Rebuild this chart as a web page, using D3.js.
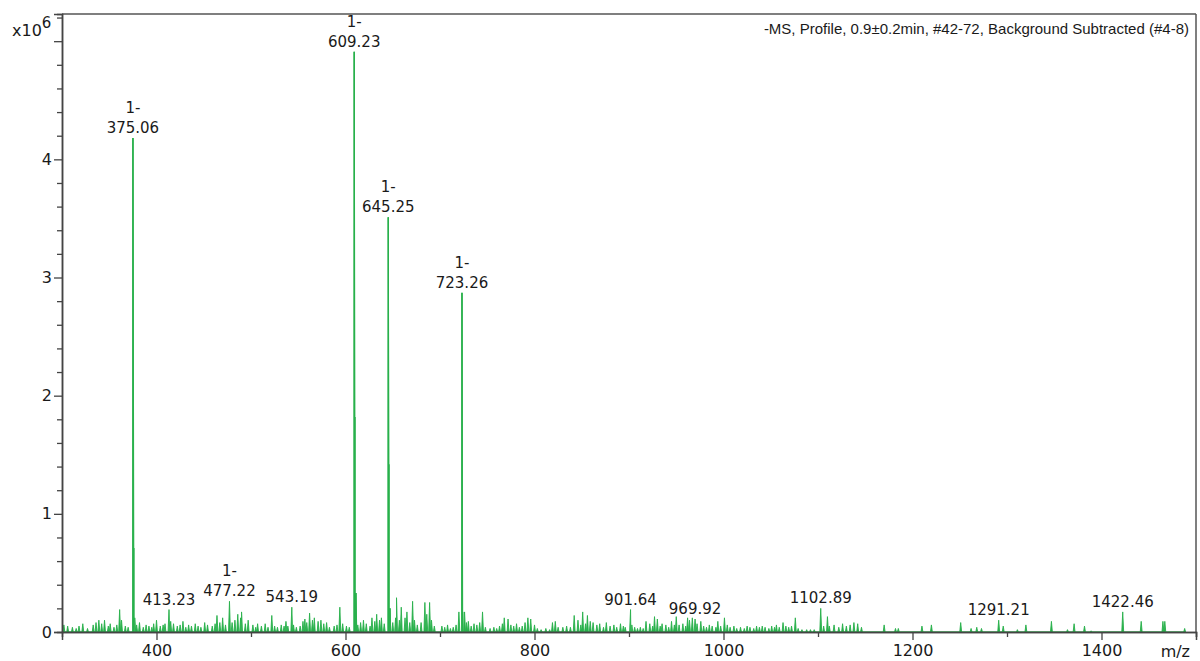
<!DOCTYPE html>
<html>
<head>
<meta charset="utf-8">
<title>MS spectrum</title>
<script src="https://d3js.org/d3.v7.min.js"></script>
<style>
  body { margin: 0; background: #fff; }
  text { font-family: "DejaVu Sans", sans-serif; fill: #1a1a1a; }
</style>
</head>
<body>
<svg id="chart" width="1200" height="661"></svg>
<script>
// main peaks [m/z, intensity x1e6]
const mainPeaks = [
  [375.06, 4.18], [376.0, 0.71],
  [609.23, 4.91], [610.0, 1.82], [611.0, 0.33],
  [645.25, 3.51], [646.0, 1.42], [647.0, 0.20],
  [723.26, 2.87], [724.0, 0.17]
];

// background peaks [m/z, intensity x1e6]
const noisePeaks = [
  [302,0.06],[306,0.05],[311,0.04],[315,0.03],[318,0.05],[322,0.07],[327,0.03],[333,0.06],
  [336,0.08],[339,0.10],[342,0.07],[345,0.10],[349,0.05],[351,0.07],[355,0.04],[358,0.06],
  [361,0.19],[363,0.10],[367,0.05],[370,0.04],[377,0.12],[379,0.06],[382,0.08],[386,0.04],
  [389,0.06],[392,0.05],[395,0.04],[397,0.07],[400,0.10],[404,0.05],[407,0.06],[409,0.07],
  [413.23,0.19],[415,0.09],[418,0.07],[422,0.05],[425,0.06],[428,0.09],[431,0.04],[434,0.06],
  [437,0.05],[441,0.07],[444,0.05],[447,0.04],[451,0.08],[454,0.06],[459,0.05],[462,0.07],
  [464,0.14],[467,0.08],[470,0.12],[473,0.06],[477.22,0.26],[480,0.08],[483,0.10],[486,0.15],
  [489,0.12],[490,0.17],[494,0.07],[497,0.10],
  [502,0.06],[505,0.04],[507,0.07],[511,0.05],[515,0.07],[518,0.04],[522,0.14],[525,0.05],
  [528,0.04],[532,0.06],[535,0.05],[537,0.09],[539,0.05],[543.19,0.21],[545,0.06],[548,0.04],
  [552,0.05],[555,0.09],[557,0.11],[559,0.08],[562,0.16],[565,0.10],[567,0.12],[571,0.09],
  [574,0.10],[577,0.07],[580,0.08],[583,0.04],[588,0.05],[591,0.06],[594,0.21],[597,0.07],
  [601,0.05],[604,0.04],[613,0.06],[616,0.08],[619,0.10],[622,0.07],[626,0.05],[628,0.12],
  [631,0.09],[633,0.15],[636,0.10],[638,0.12],[641,0.07],[650,0.08],[653,0.12],[654,0.29],
  [657,0.10],[659,0.21],[663,0.12],[665,0.17],[668,0.08],[671,0.26],[673,0.10],[676,0.06],
  [680,0.08],[684,0.25],[686,0.15],[689,0.25],[691,0.10],[694,0.05],
  [702,0.05],[705,0.04],[708,0.06],[711,0.03],[714,0.04],[717,0.06],[720,0.17],[726,0.17],
  [728,0.08],[730,0.09],[733,0.05],[736,0.07],[739,0.06],[742,0.08],[745,0.17],[748,0.04],
  [753,0.03],[757,0.04],[760,0.03],[763,0.05],[766,0.07],[768,0.12],[772,0.11],[775,0.06],
  [778,0.05],[781,0.07],[784,0.04],[787,0.05],[790,0.08],[793,0.12],[796,0.11],[800,0.06],
  [803,0.03],[807,0.02],[812,0.03],[816,0.02],[819,0.08],[822,0.09],[825,0.04],[830,0.04],
  [834,0.05],[838,0.04],[842,0.14],[846,0.10],[849,0.06],[851,0.17],[854,0.07],[856,0.14],
  [859,0.09],[862,0.08],[866,0.06],[869,0.07],[873,0.04],[876,0.08],[880,0.05],[884,0.06],
  [887,0.04],[891,0.07],[894,0.05],[896,0.04],[901.64,0.19],
  [903,0.06],[906,0.04],[909,0.03],[912,0.04],[915,0.03],[918,0.09],[922,0.07],[925,0.05],
  [927,0.13],[930,0.11],[933,0.05],[935,0.07],[939,0.06],[942,0.04],[945,0.09],[948,0.06],
  [950,0.13],[953,0.06],[957,0.07],[960,0.05],[962,0.12],[964,0.10],[967,0.12],[969.92,0.11],
  [972,0.07],[976,0.09],[979,0.05],[982,0.04],[985,0.06],[988,0.05],[992,0.04],[994,0.09],
  [997,0.05],[1001,0.12],[1004,0.06],[1007,0.04],[1011,0.05],[1014,0.03],[1018,0.04],[1022,0.03],
  [1025,0.05],[1028,0.04],[1032,0.03],[1035,0.05],[1038,0.04],[1041,0.05],[1044,0.04],[1048,0.03],
  [1051,0.05],[1054,0.04],[1056,0.06],[1059,0.04],[1063,0.08],[1066,0.05],[1069,0.04],[1072,0.05],
  [1076,0.12],[1079,0.03],[1083,0.02],[1088,0.02],[1092,0.02],[1096,0.02],
  [1102.89,0.20],[1106,0.05],[1110,0.13],[1112,0.05],[1117,0.06],[1122,0.04],[1126,0.07],[1130,0.05],
  [1134,0.06],[1138,0.08],[1142,0.07],[1146,0.04],[1170,0.06],[1182,0.03],[1185,0.03],[1210,0.05],
  [1220,0.06],[1251,0.08],[1262,0.03],[1268,0.04],[1273,0.03],[1291.21,0.10],[1296,0.05],[1311,0.02],
  [1320,0.06],[1347,0.09],[1364,0.02],[1371,0.07],[1382,0.05],[1389,0.01],[1422.46,0.17],[1442,0.09],
  [1465,0.09],[1467,0.09],[1488,0.03]
];

// annotated peaks [m/z, intensity, charge]
const peakLabels = [
  [375.06, 4.18, "1-"], [609.23, 4.91, "1-"], [645.25, 3.51, "1-"], [723.26, 2.87, "1-"],
  [413.23, 0.19, ""], [477.22, 0.26, "1-"], [543.19, 0.21, ""], [901.64, 0.19, ""],
  [969.92, 0.11, ""], [1102.89, 0.20, ""], [1291.21, 0.10, ""], [1422.46, 0.17, ""]
];

const xMajor = [400, 600, 800, 1000, 1200, 1400];
const xMinor = [500, 700, 900, 1100, 1300, 1500];
const yMajor = [0, 1, 2, 3, 4, 5];
const yMinor = d3.range(0.2, 5.21, 0.2).filter(v => Math.abs(v - Math.round(v)) > 0.01);
const titleText = "-MS, Profile, 0.9\u00b10.2min, #42-72, Background Subtracted (#4-8)";

const svg = d3.select("#chart");
const mLeft = 62, mRight = 1196, mTop = 14, mBottom = 632;
const green = "#28b04b";

const x = d3.scaleLinear().domain([300, 1500]).range([mLeft, mRight]);
const y = d3.scaleLinear().domain([0, 5.23]).range([mBottom, mTop]);

// build profile: each peak is a narrow triangle
const w = 1.0;
let profile = [];
mainPeaks.concat(noisePeaks).forEach(p => {
  profile.push([p[0] - w, 0], [p[0], p[1]], [p[0] + w, 0]);
});
profile.sort((a, b) => a[0] - b[0]);

const area = d3.area()
  .x(d => x(d[0]))
  .y0(y(0))
  .y1(d => y(d[1]));

svg.append("path")
  .datum(profile)
  .attr("d", area)
  .attr("fill", green)
  .attr("stroke", green)
  .attr("stroke-width", 0.9)
  .attr("stroke-linejoin", "round");

// intense peaks as sticks so the shoulders stay visible
svg.append("g").selectAll("line").data(mainPeaks).join("line")
  .attr("x1", d => x(d[0])).attr("x2", d => x(d[0]))
  .attr("y1", y(0)).attr("y2", d => y(d[1]))
  .attr("stroke", green).attr("stroke-width", 1.5);

// frame
svg.append("line").attr("x1", mLeft).attr("x2", mRight).attr("y1", mTop).attr("y2", mTop)
  .attr("stroke", "#555").attr("stroke-width", 1.5);
svg.append("line").attr("x1", mRight).attr("x2", mRight).attr("y1", mTop).attr("y2", mBottom)
  .attr("stroke", "#555").attr("stroke-width", 1.5);

// axes
function styleAxis(g) {
  g.select(".domain").attr("stroke", "#444").attr("stroke-width", 1.5);
  g.selectAll(".tick line").attr("stroke", "#444").attr("stroke-width", 1.3);
  g.selectAll(".tick text").attr("fill", "#1a1a1a").style("font-size", "16px")
    .style("font-family", "DejaVu Sans, sans-serif");
}

svg.append("g").attr("transform", `translate(0,${mBottom})`)
  .call(d3.axisBottom(x).tickValues(xMinor).tickSize(5).tickFormat(""))
  .call(styleAxis);
svg.append("g").attr("transform", `translate(0,${mBottom})`)
  .call(d3.axisBottom(x).tickValues(xMajor).tickSize(8).tickPadding(5).tickFormat(d3.format("d")))
  .call(styleAxis);

svg.append("g").attr("transform", `translate(${mLeft},0)`)
  .call(d3.axisLeft(y).tickValues(yMinor).tickSize(5).tickFormat(""))
  .call(styleAxis);
svg.append("g").attr("transform", `translate(${mLeft},0)`)
  .call(d3.axisLeft(y).tickValues(yMajor).tickSize(8).tickPadding(2)
    .tickFormat(d => d === 5 ? "" : d))
  .call(styleAxis);

// axis unit labels
const mult = svg.append("text").attr("x", 12).attr("y", 36).style("font-size", "16px");
mult.append("tspan").text("x10");
mult.append("tspan").attr("dy", -8).style("font-size", "15px").text("6");

svg.append("text").attr("x", 1190).attr("y", 657).attr("text-anchor", "end")
  .style("font-size", "16px").text("m/z");

// title
svg.append("text").attr("x", 1189).attr("y", 34).attr("text-anchor", "end")
  .style("font-family", "Liberation Sans, Arial, sans-serif").style("font-size", "15px")
  .text(titleText);

// peak labels
const lab = svg.append("g").selectAll("g").data(peakLabels).join("g")
  .attr("transform", d => `translate(${x(d[0])},${y(d[1]) - 5})`);
lab.append("text").attr("text-anchor", "middle").style("font-size", "15px")
  .text(d => d[0].toFixed(2));
lab.filter(d => d[2]).append("text").attr("text-anchor", "middle").attr("y", -20)
  .style("font-size", "15px").text(d => d[2]);
</script>
</body>
</html>
